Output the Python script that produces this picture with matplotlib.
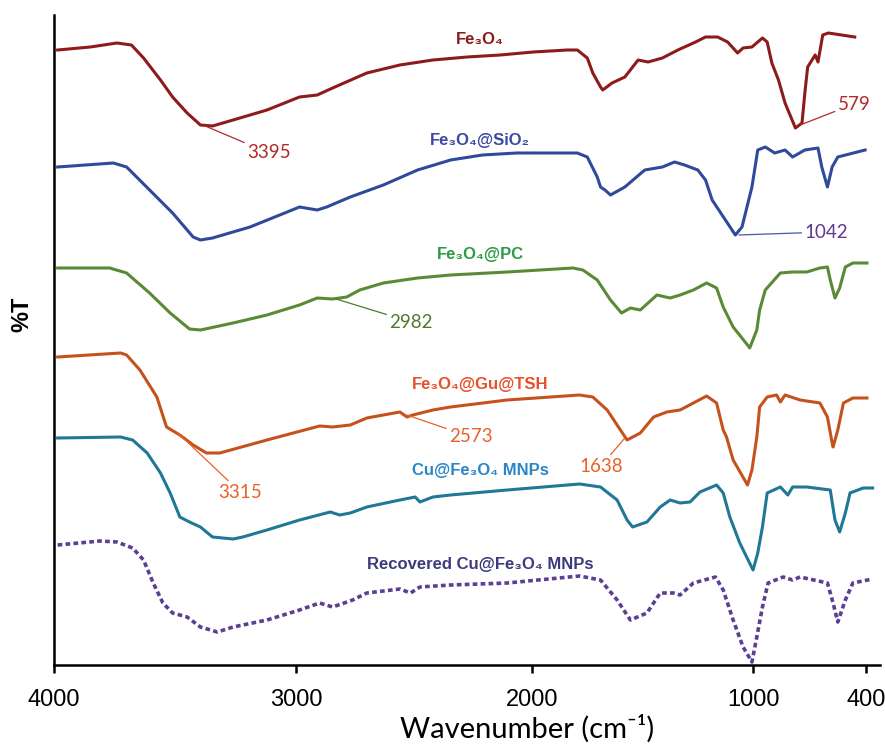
import numpy as np
import matplotlib
matplotlib.use("Agg")
import matplotlib.pyplot as plt
from matplotlib.ticker import FixedLocator, FixedFormatter

# ---- data (wavenumber in cm-1, stacked %T in arbitrary units) ----
fe3o4_wn = [3985, 3850, 3740, 3680, 3630, 3560, 3510, 3450, 3395, 3345, 3260, 3120, 2985, 2910,
            2845, 2700, 2560, 2420, 2275, 2135, 1995, 1840, 1795, 1750, 1725, 1690, 1680, 1638,
            1580, 1520, 1475, 1410, 1340, 1260, 1215, 1160, 1115, 1070, 1045, 1005, 950, 925,
            900, 865, 830, 775, 740, 725, 710, 670, 655, 630, 600, 460]
fe3o4_t = [615, 618, 622, 620, 607, 585, 568, 552, 540, 539, 545, 555, 568, 570,
           577, 592, 600, 605, 608, 610, 613, 615, 615, 607, 592, 578, 575, 582,
           588, 605, 603, 607, 615, 623, 628, 628, 623, 612, 617, 618, 627, 623,
           602, 585, 562, 537, 542, 572, 598, 610, 603, 630, 632, 628]

sio2_wn = [3985, 3755, 3700, 3605, 3510, 3425, 3395, 3345, 3190, 2985, 2910, 2870, 2770, 2630,
           2485, 2345, 2210, 2065, 1795, 1750, 1705, 1690, 1670, 1645, 1580, 1490, 1410, 1355,
           1310, 1250, 1215, 1185, 1125, 1080, 1050, 1005, 975, 935, 885, 830, 790, 725, 655,
           635, 605, 580, 550, 405]
sio2_t = [498, 502, 498, 475, 452, 428, 425, 427, 438, 458, 455, 458, 468, 480,
          495, 505, 510, 512, 512, 508, 488, 478, 475, 470, 478, 495, 498, 503,
          500, 495, 485, 465, 445, 430, 438, 478, 515, 518, 512, 515, 508, 515, 517,
          498, 478, 498, 508, 515]

pc_wn = [3985, 3770, 3700, 3605, 3520, 3440, 3395, 3260, 3120, 2985, 2910, 2845, 2785, 2730,
         2630, 2485, 2345, 2105, 1815, 1770, 1705, 1645, 1595, 1555, 1510, 1435, 1375, 1330,
         1270, 1210, 1165, 1135, 1090, 1025, 1015, 980, 965, 935, 855, 790, 715, 645, 605,
         590, 565, 540, 510, 470, 395]
pc_t = [397, 397, 392, 372, 352, 336, 335, 342, 350, 360, 367, 366, 368, 375,
        382, 387, 390, 393, 397, 395, 385, 365, 352, 357, 355, 370, 367, 370,
        375, 382, 377, 358, 338, 320, 317, 335, 355, 375, 392, 393, 393, 397, 398,
        385, 367, 377, 398, 402, 402]

tsh_wn = [3985, 3725, 3700, 3645, 3575, 3535, 3480, 3425, 3370, 3315, 3120, 2900, 2845, 2770,
          2700, 2560, 2530, 2505, 2420, 2345, 2105, 1785, 1725, 1660, 1600, 1570, 1510, 1450,
          1390, 1330, 1270, 1210, 1165, 1135, 1120, 1090, 1025, 1005, 980, 965, 925, 875,
          855, 830, 750, 645, 605, 580, 575, 550, 520, 470, 395]
tsh_t = [308, 312, 310, 295, 268, 238, 230, 220, 212, 212, 225, 239, 238, 240,
         247, 253, 248, 250, 255, 258, 265, 270, 268, 255, 235, 225, 232, 248,
         253, 255, 262, 269, 262, 235, 228, 205, 180, 195, 228, 258, 268, 270,
         263, 270, 265, 262, 248, 222, 218, 235, 262, 267, 267]

cu_wn = [3985, 3725, 3675, 3615, 3560, 3520, 3480, 3440, 3395, 3345, 3260, 3220, 3120, 2985,
         2855, 2815, 2770, 2700, 2560, 2495, 2475, 2420, 2345, 2105, 1785, 1690, 1615, 1570,
         1545, 1480, 1420, 1375, 1330, 1285, 1240, 1165, 1135, 1105, 1060, 1000, 975, 950,
         925, 855, 815, 790, 715, 590, 565, 540, 510, 485, 415, 365]
cu_t = [227, 228, 225, 212, 192, 172, 148, 143, 138, 128, 126, 128, 135, 145,
        153, 150, 152, 158, 165, 168, 163, 168, 170, 175, 181, 178, 165, 145,
        138, 143, 158, 165, 162, 163, 173, 180, 172, 148, 122, 95, 112, 138,
        172, 178, 170, 178, 178, 175, 145, 133, 152, 172, 177, 177]

rec_wn = [3985, 3810, 3740, 3675, 3630, 3590, 3550, 3510, 3450, 3395, 3325, 3260, 3120, 2985,
          2900, 2845, 2760, 2700, 2560, 2515, 2475, 2345, 2105, 1785, 1690, 1615, 1555, 1480,
          1420, 1360, 1330, 1270, 1170, 1135, 1090, 1045, 1005, 980, 950, 920, 840, 790, 750,
          605, 575, 550, 510, 470, 365]
rec_t = [120, 124, 123, 117, 105, 82, 62, 52, 48, 38, 33, 38, 45, 55,
         62, 58, 65, 72, 76, 72, 78, 80, 82, 89, 85, 65, 45, 52,
         72, 72, 70, 82, 88, 75, 45, 18, 3, 28, 58, 82, 88, 85, 88,
         82, 62, 43, 65, 82, 86]

tick_values = [4000, 3000, 2000, 1000, 400]

# the original axis is not linear: the printed ticks sit at these relative positions
axis_wn = [-1000, 400, 1000, 2000, 3000, 4000, 6000]
axis_pos = [1130, 866, 753, 532, 296, 54, -430]

series = [
    (fe3o4_wn, fe3o4_t, "#8e1b1b", "-", "Fe₃O₄", "#8b1a1a", 625),
    (sio2_wn, sio2_t, "#2f4a9a", "-", "Fe₃O₄@SiO₂", "#3b4aa0", 524),
    (pc_wn, pc_t, "#5a8a35", "-", "Fe₃O₄@PC", "#2e9a44", 410),
    (tsh_wn, tsh_t, "#c5521d", "-", "Fe₃O₄@Gu@TSH", "#e8502a", 280),
    (cu_wn, cu_t, "#1f7896", "-", "Cu@Fe₃O₄ MNPs", "#2b86c6", 194),
    (rec_wn, rec_t, "#5a3f94", (0, (1.3, 0.9)), "Recovered Cu@Fe₃O₄ MNPs", "#3d3a7c", 100),
]

# (text, peak position, text position, text colour, line colour)
peaks = [
    ("3395", (3375, 539), (3112, 512), "#b02a2a", "#b02a2a"),
    ("579", (750, 540), (464, 561), "#b02a2a", "#b02a2a"),
    ("1042", (1063, 430), (612, 433), "#5b3a8f", "#4b56a8"),
    ("2982", (2830, 366), (2513, 343), "#4f7a2c", "#4f7a2c"),
    ("2573", (2530, 250), (2259, 228), "#e8622a", "#e8622a"),
    ("3315", (3488, 232), (3231, 173), "#e8622a", "#e8622a"),
    ("1638", (1580, 227), (1688, 199), "#e8622a", "#e8622a"),
]


def forward(x):
    return -np.interp(x, axis_wn, axis_pos)


def inverse(p):
    return np.interp(-p, axis_pos[::-1], axis_wn[::-1])


fig = plt.figure(figsize=(8.85, 7.46), dpi=100)
ax = fig.add_axes([54 / 885, 81 / 746, 826 / 885, 650 / 746])

ax.set_xscale("function", functions=(forward, inverse))

for wn, t, lc, ls, name, tc, label_y in series:
    lw = 2.6 if ls != "-" else 2.2
    ax.plot(wn, t, color=lc, linestyle=ls, lw=lw, dash_capstyle="butt")
    ax.text(2220, label_y, name, color=tc, fontsize=12, fontweight="bold",
            family=["Liberation Sans", "DejaVu Sans"], ha="center", va="center")

for txt, xy, xyt, tc, lc in peaks:
    ax.annotate(txt, xy=xy, xytext=xyt, color=tc, fontsize=13.5, family=["Lato", "DejaVu Sans"],
                ha="center", va="center",
                arrowprops=dict(arrowstyle="-", color=lc, lw=0.9, shrinkA=0, shrinkB=0))

ax.set_xlim(4000, 326)
ax.set_ylim(0, 650)

ax.xaxis.set_major_locator(FixedLocator(tick_values))
ax.xaxis.set_major_formatter(FixedFormatter([str(v) for v in tick_values]))
ax.xaxis.set_minor_locator(FixedLocator([]))
ax.tick_params(axis="x", direction="out", length=6, width=1.8, pad=11, labelsize=17)
for lab in ax.get_xticklabels():
    lab.set_family(["Liberation Sans Narrow", "Liberation Sans"])
ax.set_yticks([])

for side in ["top", "right"]:
    ax.spines[side].set_visible(False)
for side in ["left", "bottom"]:
    ax.spines[side].set_linewidth(1.8)

ax.set_xlabel("Wavenumber (cm⁻¹)", fontsize=21, family=["Lato", "DejaVu Sans"])
ax.xaxis.label.set_va("baseline")
ax.xaxis.set_label_coords(0.573, -0.1125)
fig.text(22 / 885, 1 - 314 / 746, "%T", rotation=90, fontsize=17, fontweight="bold",
         family="Liberation Sans", ha="center", va="center")

fig.savefig("out.png", dpi=100)
